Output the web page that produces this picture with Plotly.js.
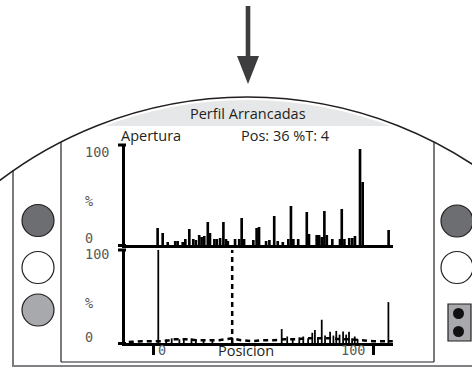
<!DOCTYPE html>
<html><head><meta charset="utf-8">
<script src="https://cdn.plot.ly/plotly-3.0.1.min.js"></script>
<style>html,body{margin:0;padding:0;background:#fff;}#c{width:472px;height:367px;}</style>
</head><body><div id="c"></div>
<script>
// ---- data ----
const chartTitle = "Perfil Arrancadas";
const modeLabel = "Apertura";
const currentPos = 36;
const torqueT = 4;
const xTickVals = [0, 100];
const xTickText = ["0", "100"];
const yTickText = ["100", "%", "0"];
const xAxisTitle = "Posicion";

const topPos = [2.1,4.4,6.7,10.1,11.2,13.5,14.7,16.5,18.3,19.5,21.0,22.1,23.3,24.9,25.9,27.9,29.0,30.5,32.0,33.2,34.0,37.3,39.2,40.3,41.4,45.6,47.1,48.2,51.4,52.9,55.1,56.7,59.0,61.5,62.7,63.8,66.0,69.9,70.9,74.4,75.5,76.7,77.9,79.0,81.5,85.0,85.8,87.0,89.2,90.6,91.8,94.1,95.3,107.1];
const topVal = [17,12,3,4,4,3,6,16,6,5,10,8,9,23,12,6,6,7,23,6,4,6,6,27,6,5,17,18,4,5,29,4,3,6,39,6,6,33,11,10,10,8,34,10,6,6,36,6,7,7,9,96,63,15];

const botPos = [2.4,6,8.5,12,14,17.5,19.5,23,27,58.5,61,63.5,66.5,68.3,70.5,72.4,73.6,75,76.7,78.2,80.5,82,83.3,84.8,86.4,87.8,89.1,90.5,91.7,93,107];
const botVal = [100,4,5,4,4,5,4,3,3,15,7,5,6,7,5,11,14,5,25,8,12,8,13,9,12.5,9,12,5,7,4,44];

const profX = [-11,-5,0,5,10,15,20,25,30,36,40,45,50,55,60,65,70,75,80,85,90,95,100,105,109];
const profY = [1,2,2,2,4,4,3,3,3,5,3,2,3,3,4,4,5,5,5,4,4,3,2,2,2];

// ---- layout helpers (pixel -> paper) ----
const W = 472, H = 367;
const X = p => p / W;
const Y = p => 1 - p / H;
const ink = "#231f20";

const traces = [
  {type:"bar", x: topPos, y: topVal, width: 1.2, marker:{color:"#000"}, xaxis:"x", yaxis:"y", hoverinfo:"skip"},
  {type:"bar", x: botPos, y: botVal, width: 0.8, marker:{color:"#000"}, xaxis:"x2", yaxis:"y2", hoverinfo:"skip"},
  {type:"scatter", mode:"lines", x: profX, y: profY, line:{color:"#000", width:2.5, dash:"5px,4px"}, xaxis:"x2", yaxis:"y2", hoverinfo:"skip"},
  {type:"scatter", mode:"lines", x: [currentPos, currentPos], y: [0, 100], line:{color:"#000", width:2.5, dash:"5px,4px"}, xaxis:"x2", yaxis:"y2", hoverinfo:"skip"}
];

const xr = [(125-153)/2.2, (393-153)/2.2];
const axX = {range: xr, showgrid:false, zeroline:false, showline:true, linewidth:3, linecolor:"#000", fixedrange:true};

const shapes = [
  // title band + arc
  {type:"circle", xref:"paper", yref:"paper", x0:X(247.5-409), x1:X(247.5+409), y0:Y(97+818), y1:Y(97), fillcolor:"#e6e7e8", line:{color:"#fff", width:6}, layer:"below"},
  {type:"rect", xref:"paper", yref:"paper", x0:X(-5), x1:X(480), y0:Y(126), y1:Y(370), fillcolor:"#fff", line:{width:0}, layer:"below"},
  {type:"circle", xref:"paper", yref:"paper", x0:X(247.5-409), x1:X(247.5+409), y0:Y(97+818), y1:Y(97), fillcolor:"rgba(0,0,0,0)", line:{color:ink, width:1.5}, layer:"below"},
  // frame lines
  {type:"line", xref:"paper", yref:"paper", x0:X(13), x1:X(13), y0:Y(170), y1:Y(367), line:{color:ink, width:1.2}, layer:"below"},
  {type:"line", xref:"paper", yref:"paper", x0:X(61), x1:X(61), y0:Y(142), y1:Y(362), line:{color:ink, width:1.2}, layer:"below"},
  {type:"line", xref:"paper", yref:"paper", x0:X(434), x1:X(434), y0:Y(142), y1:Y(362), line:{color:ink, width:1.2}, layer:"below"},
  {type:"line", xref:"paper", yref:"paper", x0:X(61), x1:X(434), y0:Y(362), y1:Y(362), line:{color:ink, width:1.2}, layer:"below"},
  {type:"line", xref:"paper", yref:"paper", x0:X(13), x1:X(472), y0:Y(366), y1:Y(366), line:{color:"#808285", width:2}, layer:"below"},
  // arrow
  {type:"line", xref:"paper", yref:"paper", x0:X(248), x1:X(248), y0:Y(6), y1:Y(62), line:{color:"#3d3d3f", width:4.6}, layer:"below"},
  {type:"path", xref:"paper", yref:"paper", path:`M ${X(237)} ${Y(56)} L ${X(259)} ${Y(56)} L ${X(248)} ${Y(84)} Z`, fillcolor:"#3d3d3f", line:{width:0}, layer:"below"},
  // left buttons
  {type:"circle", xref:"paper", yref:"paper", x0:X(22), x1:X(54), y0:Y(236.5), y1:Y(204.5), fillcolor:"#6d6e71", line:{color:ink, width:1.2}, layer:"below"},
  {type:"circle", xref:"paper", yref:"paper", x0:X(22), x1:X(54), y0:Y(283.5), y1:Y(251.5), fillcolor:"#fff", line:{color:ink, width:1.2}, layer:"below"},
  {type:"circle", xref:"paper", yref:"paper", x0:X(22), x1:X(54), y0:Y(326), y1:Y(294), fillcolor:"#a7a9ac", line:{color:ink, width:1.2}, layer:"below"},
  // right buttons
  {type:"circle", xref:"paper", yref:"paper", x0:X(441), x1:X(473), y0:Y(237), y1:Y(205), fillcolor:"#6d6e71", line:{color:ink, width:1.2}, layer:"below"},
  {type:"circle", xref:"paper", yref:"paper", x0:X(441), x1:X(473), y0:Y(283.5), y1:Y(251.5), fillcolor:"#fff", line:{color:ink, width:1.2}, layer:"below"},
  {type:"rect", xref:"paper", yref:"paper", x0:X(448), x1:X(471), y0:Y(341), y1:Y(304), fillcolor:"#a7a9ac", line:{color:ink, width:1.2}, layer:"below"},
  {type:"circle", xref:"paper", yref:"paper", x0:X(453), x1:X(464), y0:Y(319), y1:Y(308), fillcolor:"#111", line:{width:0}, layer:"below"},
  {type:"circle", xref:"paper", yref:"paper", x0:X(453), x1:X(464), y0:Y(337), y1:Y(326), fillcolor:"#111", line:{width:0}, layer:"below"},
  // axis stubs
  {type:"line", xref:"paper", yref:"paper", x0:X(118), x1:X(126), y0:Y(145), y1:Y(145), line:{color:"#000", width:3}},
  {type:"line", xref:"paper", yref:"paper", x0:X(118), x1:X(126), y0:Y(245.5), y1:Y(245.5), line:{color:"#000", width:3}},
  {type:"line", xref:"paper", yref:"paper", x0:X(118), x1:X(126), y0:Y(250), y1:Y(250), line:{color:"#000", width:3}},
  {type:"line", xref:"paper", yref:"paper", x0:X(118), x1:X(126), y0:Y(343.5), y1:Y(343.5), line:{color:"#000", width:3}}
];

const sans = "Open Sans, Noto Sans, sans-serif";
const mono = "DejaVu Sans Mono, monospace";
const monoCol = "#58595b";
const ann = (text, x, y, font, xanchor) => ({text, xref:"paper", yref:"paper", x:X(x), y:Y(y), xanchor: xanchor||"center", yanchor:"middle", showarrow:false, font});
const sf = {family:sans, size:14.5, color:ink};
const mf = {family:mono, size:13.5, color:monoCol};

const annotations = [
  ann(chartTitle, 248, 114, {family:sans, size:14.5, color:ink}),
  ann(modeLabel, 119, 135, sf, "left"),
  ann(`Pos: ${currentPos} %T: ${torqueT}`, 239, 135, sf, "left"),
  ann(yTickText[0], 83, 152, mf, "left"),
  ann(yTickText[1], 83, 201, mf, "left"),
  ann(yTickText[2], 83, 238, mf, "left"),
  ann(yTickText[0], 83, 254, mf, "left"),
  ann(yTickText[1], 83, 303, mf, "left"),
  ann(yTickText[2], 83, 337, mf, "left"),
  ann(xTickText[0], 162, 350, mf),
  ann(xTickText[1], 353, 350, mf),
  ann(xAxisTitle, 246, 350, sf)
];

const layout = {
  width: W, height: H, margin:{l:0,r:0,t:0,b:0},
  paper_bgcolor:"#fff", plot_bgcolor:"rgba(0,0,0,0)",
  showlegend:false, barmode:"overlay",
  xaxis: Object.assign({}, axX, {domain:[X(125), X(393)], anchor:"y", ticks:"", showticklabels:false}),
  xaxis2: Object.assign({}, axX, {domain:[X(125), X(393)], anchor:"y2", matches:"x", tickvals: xTickVals, ticks:"outside", ticklen:9, tickwidth:3, tickcolor:"#000", showticklabels:false}),
  yaxis: {domain:[Y(245), Y(145)], range:[0,100], anchor:"x", showgrid:false, zeroline:false, showline:true, linewidth:3, linecolor:"#000", ticks:"", showticklabels:false, fixedrange:true},
  yaxis2: {domain:[Y(343), Y(250)], range:[0,100], anchor:"x2", showgrid:false, zeroline:false, showline:true, linewidth:3, linecolor:"#000", ticks:"", showticklabels:false, fixedrange:true},
  shapes, annotations
};

Plotly.newPlot("c", traces, layout, {staticPlot:true, displayModeBar:false});
</script>
</body></html>
